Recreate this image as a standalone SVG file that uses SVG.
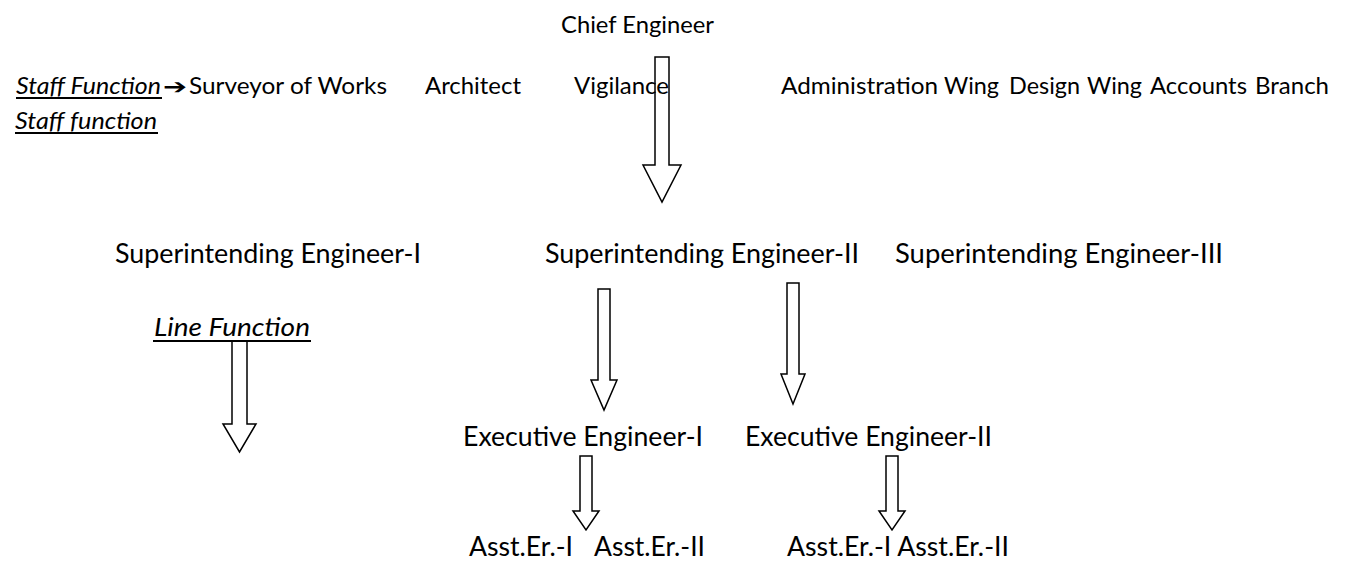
<svg xmlns="http://www.w3.org/2000/svg" width="1346" height="561" viewBox="0 0 1346 561">
<style>
text{font-family:Lato,"Open Sans","Liberation Sans",sans-serif;fill:#000}
.t1{font-size:23.5px}
.t2{font-size:26px}
.it{font-style:italic}
.ul{stroke:#000;stroke-width:1.8}
.arr{fill:none;stroke:#000;stroke-width:1.5;stroke-linejoin:miter}
</style>
<rect width="1346" height="561" fill="#fff"/>
<g id="chief"><text class="t1" x="561" y="33" textLength="153" lengthAdjust="spacingAndGlyphs">Chief Engineer</text></g>
<g id="staff-row">
<text class="t1 it" x="16" y="94" textLength="145" lengthAdjust="spacingAndGlyphs">Staff Function</text>
<line class="ul" x1="16" y1="98" x2="162" y2="98"/>
<text x="163" y="94" textLength="24" lengthAdjust="spacingAndGlyphs" style="font-family:'DejaVu Sans',sans-serif;font-size:21px">➔</text>
<text class="t1" x="189" y="94" textLength="198" lengthAdjust="spacingAndGlyphs">Surveyor of Works</text>
<text class="t1" x="425" y="94" textLength="96" lengthAdjust="spacingAndGlyphs">Architect</text>
<text class="t1" x="574" y="94" textLength="95" lengthAdjust="spacingAndGlyphs">Vigilance</text>
<text class="t1" x="781" y="94" textLength="157" lengthAdjust="spacingAndGlyphs">Administration</text>
<text class="t1" x="944" y="94" textLength="55" lengthAdjust="spacingAndGlyphs">Wing</text>
<text class="t1" x="1009" y="94" textLength="71" lengthAdjust="spacingAndGlyphs">Design</text>
<text class="t1" x="1087" y="94" textLength="55" lengthAdjust="spacingAndGlyphs">Wing</text>
<text class="t1" x="1150" y="94" textLength="97" lengthAdjust="spacingAndGlyphs">Accounts</text>
<text class="t1" x="1255" y="94" textLength="74" lengthAdjust="spacingAndGlyphs">Branch</text>
<text class="t1 it" x="15" y="129" textLength="142" lengthAdjust="spacingAndGlyphs">Staff function</text>
<line class="ul" x1="15" y1="133" x2="158" y2="133"/>
</g>
<g id="se1"><text class="t2" x="115" y="263" textLength="306" lengthAdjust="spacingAndGlyphs">Superintending Engineer-I</text></g>
<g id="se2"><text class="t2" x="545" y="263" textLength="314" lengthAdjust="spacingAndGlyphs">Superintending Engineer-II</text></g>
<g id="se3"><text class="t2" x="895" y="263" textLength="328" lengthAdjust="spacingAndGlyphs">Superintending Engineer-III</text></g>
<g id="line-function"><text class="t2 it" x="154" y="336" textLength="156" lengthAdjust="spacingAndGlyphs">Line Function</text>
<line class="ul" x1="153" y1="341" x2="311" y2="341"/></g>
<g id="ee1"><text class="t2" x="463" y="446" textLength="240" lengthAdjust="spacingAndGlyphs">Executive Engineer-I</text></g>
<g id="ee2"><text class="t2" x="745" y="446" textLength="247" lengthAdjust="spacingAndGlyphs">Executive Engineer-II</text></g>
<g id="asst1"><text class="t2" x="469" y="556" textLength="104" lengthAdjust="spacingAndGlyphs">Asst.Er.-I</text>
<text class="t2" x="594" y="556" textLength="111" lengthAdjust="spacingAndGlyphs">Asst.Er.-II</text></g>
<g id="asst2"><text class="t2" x="787" y="556" textLength="222" lengthAdjust="spacingAndGlyphs">Asst.Er.-I Asst.Er.-II</text></g>
<g id="connectors">
<path class="arr" d="M655,57 H669 V165 H681 L662,202 L643,165 H655 Z"/>
<path class="arr" d="M232,341 H247 V424 H256 L239.5,452 L223,424 H232 Z"/>
<path class="arr" d="M598,289 H610 V380 H617 L604,410 L591,380 H598 Z"/>
<path class="arr" d="M787,283 H799 V374 H805 L793,404 L781,374 H787 Z"/>
<path class="arr" d="M580,456 H592 V511 H599 L586,530 L573,511 H580 Z"/>
<path class="arr" d="M886,456 H898 V511 H905 L892,530 L879,511 H886 Z"/>
</g>
</svg>
